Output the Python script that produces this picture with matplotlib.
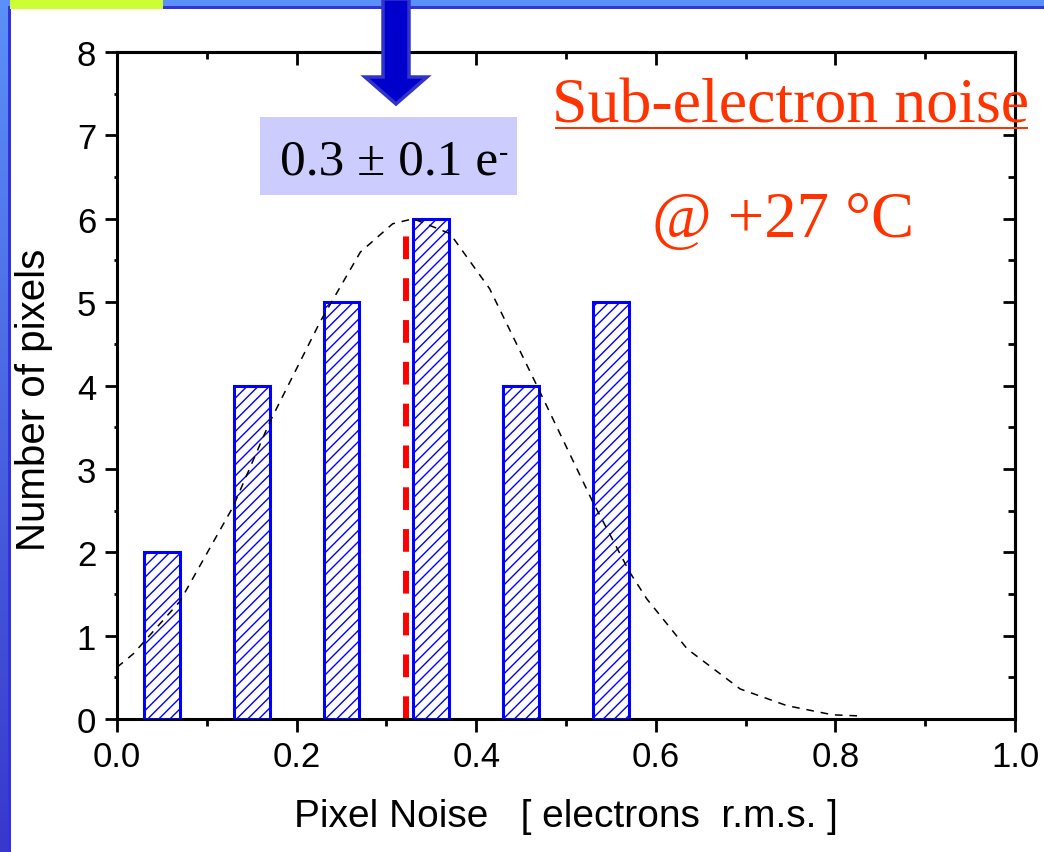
import numpy as np
import matplotlib
matplotlib.use("Agg")
import matplotlib.pyplot as plt
from matplotlib.patches import Rectangle, Polygon
from matplotlib.ticker import MultipleLocator

# histogram of pixel noise
bin_centers = [0.05, 0.15, 0.25, 0.35, 0.45, 0.55]
pixel_counts = [2, 4, 5, 6, 4, 5]
mean_noise = 0.322

# gaussian fit, points
fit_x = [0.0, 0.018, 0.070, 0.129, 0.170, 0.226, 0.271, 0.307, 0.33, 0.371,
         0.415, 0.468, 0.530, 0.571, 0.590, 0.635, 0.694, 0.746, 0.797, 0.831]
fit_y = [0.62, 0.78, 1.41, 2.54, 3.56, 4.76, 5.60, 5.94, 6.0, 5.82,
         5.16, 3.99, 2.60, 1.76, 1.44, 0.84, 0.36, 0.16, 0.05, 0.035]

x_ticks = [0.0, 0.2, 0.4, 0.6, 0.8, 1.0]
y_ticks = [0, 1, 2, 3, 4, 5, 6, 7, 8]

W, H = 1044, 853
plt.rcParams['font.family'] = ['Liberation Sans', 'DejaVu Sans']
plt.rcParams['hatch.linewidth'] = 1.0
fig = plt.figure(figsize=(W / 100, H / 100), dpi=100, facecolor='white')

ax = fig.add_axes([117 / W, 1 - 720 / H, (1015 - 117) / W, (720 - 53) / H])
ax.bar(bin_centers, pixel_counts, width=0.04, facecolor='white',
       edgecolor='#0000ff', hatch='///', linewidth=2.2, zorder=3)
ax.plot([mean_noise, mean_noise], [0, max(pixel_counts)], color='#ff0000',
        lw=4.3, linestyle=(0, (3.8, 3.2)), zorder=2)
ax.plot(fit_x, fit_y, color='black', lw=1.1, linestyle=(0, (5, 4.5)), zorder=4)

ax.set_xlim(0, 1.0)
ax.set_ylim(0, 8)
ax.set_xticks(x_ticks)
ax.set_xticklabels([f'{t:.1f}' for t in x_ticks])
ax.set_yticks(y_ticks)
ax.xaxis.set_minor_locator(MultipleLocator(0.1))
ax.yaxis.set_minor_locator(MultipleLocator(0.5))
for s in ax.spines.values():
    s.set_linewidth(2.2)
ax.tick_params(which='major', direction='out', length=9, width=2, labelsize=25, pad=6)
ax.tick_params(which='minor', direction='out', length=5, width=2)
ax.tick_params(axis='y', which='minor', length=2)

top = ax.secondary_xaxis('top')
top.set_xticks(x_ticks)
top.xaxis.set_minor_locator(MultipleLocator(0.1))
top.tick_params(which='major', direction='in', length=9, width=2, labeltop=False)
top.tick_params(which='minor', direction='in', length=5, width=2)
top.spines['top'].set_linewidth(2.2)
right = ax.secondary_yaxis('right')
right.set_yticks(y_ticks)
right.yaxis.set_minor_locator(MultipleLocator(0.5))
right.tick_params(which='major', direction='in', length=9, width=2, labelright=False)
right.tick_params(which='minor', direction='in', length=5, width=2)
right.spines['right'].set_linewidth(2.2)

ax.set_xlabel('Pixel Noise   [ electrons  r.m.s. ]', fontsize=28, labelpad=18)
ax.set_ylabel('Number of pixels', fontsize=29)
ax.yaxis.set_label_coords(-0.071, 0.48)

# slide decoration, annotations in pixel coordinates
ov = fig.add_axes([0, 0, 1, 1], zorder=5)
ov.set_xlim(0, W)
ov.set_ylim(H, 0)
ov.axis('off')
ov.patch.set_alpha(0)

grad = np.linspace(0, 1, 256).reshape(-1, 1)
cmap = matplotlib.colors.LinearSegmentedColormap.from_list('side', ['#5b90f8', '#3838cc'])
ov.imshow(grad, cmap=cmap, extent=(0, 8, H, 7), aspect='auto', zorder=1)
ov.add_patch(Rectangle((0, 0), W, 7, color='#5b90f8', lw=0, zorder=1))
ov.add_patch(Rectangle((8, 7), 3, H - 7, color='#3333dd', lw=0, zorder=2))
ov.add_patch(Rectangle((8, 7), W - 8, 2.5, color='#3333dd', lw=0, zorder=2))
ov.add_patch(Rectangle((10, 0), 153, 9.5, color='#ccff33', lw=0, zorder=3))

arrow = [(383, 0), (409, 0), (409, 78), (427, 78), (396, 105), (365, 78), (383, 78)]
ov.add_patch(Polygon(arrow, closed=True, facecolor='#0000cc', edgecolor='#3333cc',
                     lw=2.5, zorder=4))

ov.add_patch(Rectangle((260, 118), 257, 78, color='#ccccff', lw=0, zorder=4))
val = ov.text(280, 174, '0.3 ± 0.1 e', fontsize=37, family='Liberation Serif',
              ha='left', va='baseline', zorder=5)
ov.annotate('-', xy=(1, 1), xycoords=val, xytext=(0.5, -2), textcoords='offset points',
            fontsize=20, family='Liberation Serif', ha='left', va='top', zorder=5)

ov.text(791, 122, 'Sub-electron noise', fontsize=46, family='Liberation Serif',
        color='#ff3300', ha='center', va='baseline', zorder=5)
ov.add_patch(Rectangle((555, 128), 473, 2.2, color='#ff3300', lw=0, zorder=5))
ov.text(783, 237, '@ +27 °C', fontsize=46.5, family='Liberation Serif',
        color='#ff3300', ha='center', va='baseline', zorder=5)

fig.savefig('out.png', dpi=100, facecolor='white')
